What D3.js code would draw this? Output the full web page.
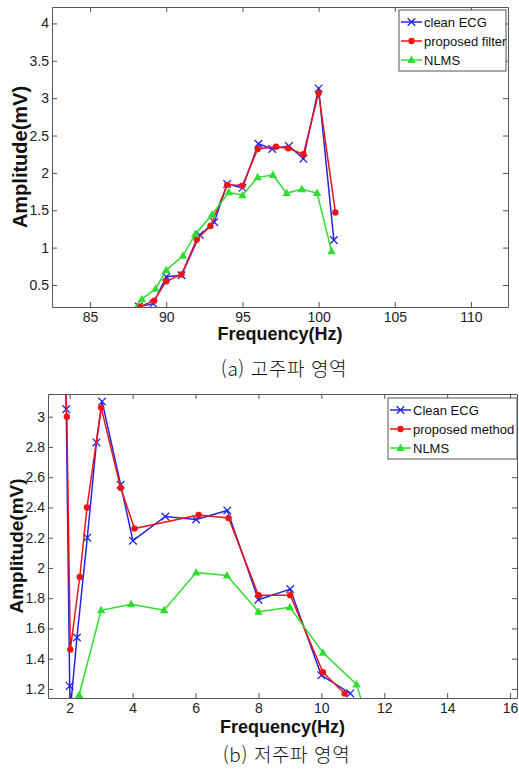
<!DOCTYPE html>
<html lang="ko">
<head>
<meta charset="UTF-8">
<title>ECG amplitude</title>
<script src="https://cdn.jsdelivr.net/npm/d3@7"></script>
<style>
  body { margin: 0; background: #fff; }
  text { font-family: "Liberation Sans", Arial, sans-serif; }
  .tick text { font-size: 14px; fill: #222; }
  .axis path, .axis line { stroke: #555; }
  .ylab, .xlab { font-weight: bold; fill: #111; }
  .caption { font-family: "Noto Sans CJK KR", sans-serif; font-size: 19px; font-weight: 300; fill: #111; letter-spacing: 0.6px; }
  .leg text { font-size: 13px; fill: #111; }
</style>
</head>
<body>
<svg width="519" height="771"></svg>
<script>
// ---- (a) high frequency region ----
const cleanA_f = [88.2, 89.15, 90.0, 91.0, 92.2, 93.15, 94.0, 95.0, 96.05, 96.95, 98.05, 99.0, 100.0, 101.0];
const cleanA_a = [0.21, 0.25, 0.61, 0.63, 1.17, 1.34, 1.85, 1.80, 2.39, 2.32, 2.36, 2.19, 3.13, 1.10];
const propA_f = [88.25, 89.2, 90.0, 91.0, 92.0, 92.9, 94.0, 95.0, 96.0, 97.2, 98.0, 99.0, 100.0, 101.1];
const propA_a = [0.21, 0.29, 0.55, 0.64, 1.11, 1.29, 1.84, 1.83, 2.32, 2.35, 2.33, 2.25, 3.07, 1.47];
const nlmsA_f = [87.6, 88.4, 89.3, 90.0, 91.1, 91.9, 93.0, 94.1, 95.0, 96.0, 97.0, 97.9, 98.9, 99.9, 100.85];
const nlmsA_a = [0.12, 0.31, 0.45, 0.70, 0.89, 1.18, 1.44, 1.74, 1.70, 1.94, 1.97, 1.73, 1.78, 1.73, 0.95];
const xTicksA = [85, 90, 95, 100, 105, 110];
const yTicksA = [0.5, 1, 1.5, 2, 2.5, 3, 3.5, 4];
const yTickLabelsA = ["0.5", "1", "1.5", "2", "2.5", "3", "3.5", "4"];
const legendA = ["clean ECG", "proposed filter", "NLMS"];

// ---- (b) low frequency region ----
const cleanB_f = [1.8, 1.89, 2.0, 2.02, 2.23, 2.56, 2.85, 3.03, 3.62, 4.01, 5.04, 6.02, 7.01, 8.0, 9.01, 10.0, 10.92];
const cleanB_a = [3.7, 3.05, 1.22, 1.06, 1.54, 2.20, 2.83, 3.10, 2.55, 2.18, 2.34, 2.32, 2.38, 1.79, 1.86, 1.29, 1.17];
const propB_f = [1.8, 1.91, 2.02, 2.32, 2.55, 3.0, 3.62, 4.06, 6.1, 7.05, 8.0, 9.01, 10.05, 10.74];
const propB_a = [3.6, 3.0, 1.46, 1.94, 2.40, 3.06, 2.53, 2.26, 2.35, 2.33, 1.82, 1.82, 1.31, 1.17];
const nlmsB_f = [2.3, 3.0, 3.95, 5.0, 6.02, 7.0, 8.0, 9.0, 10.05, 11.12, 11.45];
const nlmsB_a = [1.16, 1.72, 1.76, 1.72, 1.97, 1.95, 1.71, 1.74, 1.44, 1.23, 1.0];
const xTicksB = [2, 4, 6, 8, 10, 12, 14, 16];
const yTicksB = [1.2, 1.4, 1.6, 1.8, 2, 2.2, 2.4, 2.6, 2.8, 3];
const yTickLabelsB = ["1.2", "1.4", "1.6", "1.8", "2", "2.2", "2.4", "2.6", "2.8", "3"];
const legendB = ["Clean ECG", "proposed method", "NLMS"];

const colors = ["#2424e6", "#ee1414", "#30dc30"];
const markers = ["x", "dot", "tri"];

const svg = d3.select("svg");

function drawMarker(g, type, x, y, color) {
    if (type === "x") {
        const s = 3.8;
        g.append("path")
            .attr("d", `M${x - s},${y - s}L${x + s},${y + s}M${x - s},${y + s}L${x + s},${y - s}`)
            .attr("stroke", color).attr("stroke-width", 1.3).attr("fill", "none");
    } else if (type === "dot") {
        g.append("circle").attr("cx", x).attr("cy", y).attr("r", 3.2).attr("fill", color);
    } else {
        g.append("path")
            .attr("d", `M${x},${y - 4.5}L${x + 4.2},${y + 3}L${x - 4.2},${y + 3}Z`)
            .attr("fill", color);
    }
}

function panel(p) {
    const x = d3.scaleLinear().domain(p.xDomain).range([p.left, p.right]);
    const y = d3.scaleLinear().domain(p.yDomain).range([p.bottom, p.top]);

    svg.append("clipPath").attr("id", p.id)
        .append("rect").attr("x", p.left).attr("y", p.top)
        .attr("width", p.right - p.left).attr("height", p.bottom - p.top);

    // axes, MATLAB style ticks pointing inwards on all sides
    svg.append("g").attr("class", "axis")
        .attr("transform", `translate(0,${p.bottom})`)
        .call(d3.axisBottom(x).tickValues(p.xTicks).tickSizeInner(-5).tickSizeOuter(0).tickPadding(5).tickFormat(d => d));
    svg.append("g").attr("class", "axis")
        .attr("transform", `translate(0,${p.top})`)
        .call(d3.axisTop(x).tickValues(p.xTicks).tickSizeInner(-5).tickSizeOuter(0).tickFormat(""));
    svg.append("g").attr("class", "axis")
        .attr("transform", `translate(${p.left},0)`)
        .call(d3.axisLeft(y).tickValues(p.yTicks).tickSizeInner(-5).tickSizeOuter(0).tickPadding(3)
            .tickFormat((d, i) => p.yLabels[i]));
    svg.append("g").attr("class", "axis")
        .attr("transform", `translate(${p.right},0)`)
        .call(d3.axisRight(y).tickValues(p.yTicks).tickSizeInner(-5).tickSizeOuter(0).tickFormat(""));

    // series
    const plot = svg.append("g").attr("clip-path", `url(#${p.id})`);
    const line = d3.line().x(d => x(d[0])).y(d => y(d[1]));
    p.series.forEach((s, k) => {
        const pts = s[0].map((f, i) => [f, s[1][i]]);
        plot.append("path").datum(pts)
            .attr("d", line).attr("fill", "none")
            .attr("stroke", colors[k]).attr("stroke-width", 1.5);
        pts.forEach(d => drawMarker(plot, markers[k], x(d[0]), y(d[1]), colors[k]));
    });

    // labels
    svg.append("text").attr("class", "xlab")
        .attr("x", (p.left + p.right) / 2).attr("y", p.xlabY)
        .attr("text-anchor", "middle").attr("font-size", 18)
        .text("Frequency(Hz)");
    svg.append("text").attr("class", "ylab")
        .attr("transform", `translate(${p.ylabX},${(p.top + p.bottom) / 2}) rotate(-90)`)
        .attr("text-anchor", "middle").attr("font-size", p.ylabSize)
        .text("Amplitude(mV)");
    svg.append("text").attr("class", "caption")
        .attr("x", (p.left + p.right) / 2 + 4).attr("y", p.capY)
        .attr("text-anchor", "middle")
        .text(p.caption);

    // legend
    const lg = svg.append("g").attr("class", "leg");
    lg.append("rect").attr("x", p.leg.x).attr("y", p.leg.y)
        .attr("width", p.leg.w).attr("height", p.leg.h)
        .attr("fill", "#fff").attr("stroke", "#555");
    p.legend.forEach((name, k) => {
        const ly = p.leg.y + 12 + k * 19;
        lg.append("line").attr("x1", p.leg.x + 2).attr("x2", p.leg.x + 23)
            .attr("y1", ly).attr("y2", ly).attr("stroke", colors[k]).attr("stroke-width", 1.5);
        drawMarker(lg, markers[k], p.leg.x + 12.5, ly, colors[k]);
        lg.append("text").attr("x", p.leg.x + 25).attr("y", ly + 4.5).text(name);
    });
}

panel({
    id: "clipA", left: 52, top: 7, right: 508, bottom: 307,
    xDomain: [82.5, 112.43], yDomain: [0.205, 4.22],
    xTicks: xTicksA, yTicks: yTicksA, yLabels: yTickLabelsA,
    series: [[cleanA_f, cleanA_a], [propA_f, propA_a], [nlmsA_f, nlmsA_a]],
    legend: legendA, leg: { x: 399, y: 10, w: 107, h: 61 },
    xlabY: 340, ylabX: 27, ylabSize: 20, capY: 376, caption: "(a) 고주파 영역"
});

panel({
    id: "clipB", left: 48, top: 394, right: 517, bottom: 698,
    xDomain: [1.31, 16.22], yDomain: [1.14, 3.15],
    xTicks: xTicksB, yTicks: yTicksB, yLabels: yTickLabelsB,
    series: [[cleanB_f, cleanB_a], [propB_f, propB_a], [nlmsB_f, nlmsB_a]],
    legend: legendB, leg: { x: 388, y: 398, w: 129, h: 61 },
    xlabY: 733, ylabX: 23, ylabSize: 19, capY: 762, caption: "(b) 저주파 영역"
});
</script>
</body>
</html>
